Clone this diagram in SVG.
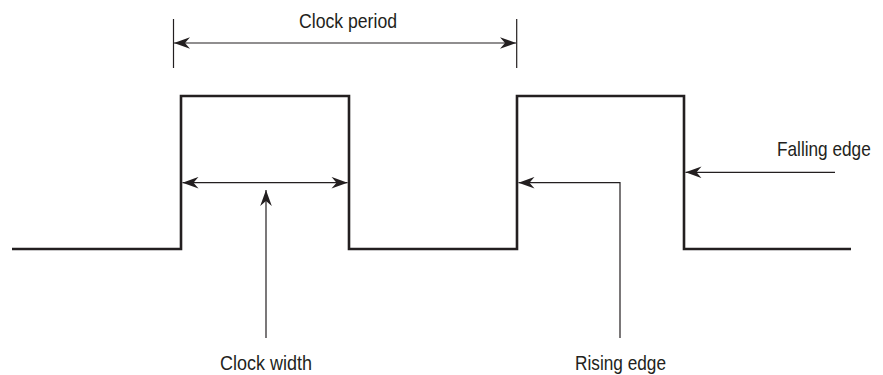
<svg xmlns="http://www.w3.org/2000/svg" width="883" height="375" viewBox="0 0 883 375">
<style>
.wave{fill:none;stroke:#231f20;stroke-width:2.6;stroke-linejoin:miter}
.ln{fill:none;stroke:#231f20;stroke-width:1.2}
.lbl{font-family:"Liberation Sans",Arial,sans-serif;font-size:21px;fill:#231f20}
</style>
<defs>
<marker id="ah" viewBox="-17 -6 18 12" refX="0" refY="0" markerWidth="18" markerHeight="12" markerUnits="userSpaceOnUse" orient="auto-start-reverse">
<path d="M0,0 L-16,-5.8 L-11,0 L-16,5.8 Z" fill="#231f20"/>
</marker>
</defs>
<rect width="883" height="375" fill="#fff"/>
<g id="waveform">
<path class="wave" d="M12,249 H181 V96 H349 V249 H517 V96 H684 V249 H851"/>
</g>
<g id="connectors">
<line class="ln" x1="173.5" y1="19" x2="173.5" y2="68"/>
<line class="ln" x1="516.7" y1="19" x2="516.7" y2="68"/>
<line class="ln" x1="174" y1="43" x2="516" y2="43" marker-start="url(#ah)" marker-end="url(#ah)"/>
<line class="ln" x1="182.5" y1="182.7" x2="347.5" y2="182.7" marker-start="url(#ah)" marker-end="url(#ah)"/>
<line class="ln" x1="266" y1="338" x2="266" y2="190" marker-end="url(#ah)"/>
<polyline class="ln" points="620,338 620,182.7 518.5,182.7" marker-end="url(#ah)"/>
<line class="ln" x1="835" y1="172.3" x2="685.5" y2="172.3" marker-end="url(#ah)"/>
</g>
<g id="label-clock-period"><text class="lbl" x="299" y="28" textLength="98" lengthAdjust="spacingAndGlyphs">Clock period</text></g>
<g id="label-clock-width"><text class="lbl" x="220" y="370" textLength="92" lengthAdjust="spacingAndGlyphs">Clock width</text></g>
<g id="label-rising-edge"><text class="lbl" x="575" y="370" textLength="91" lengthAdjust="spacingAndGlyphs">Rising edge</text></g>
<g id="label-falling-edge"><text class="lbl" transform="translate(777,156) scale(0.82,1)" x="0" y="0">Falling edge</text></g>
</svg>
